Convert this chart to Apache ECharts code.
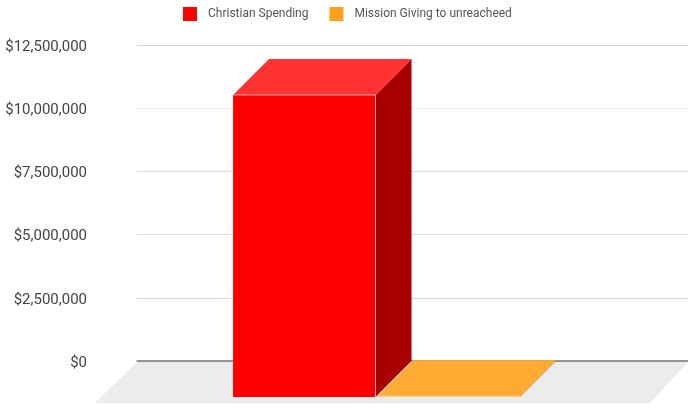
<!DOCTYPE html>
<html>
<head>
<meta charset="utf-8">
<style>html,body{margin:0;padding:0;background:#fff}#chart{width:688px;height:408px}</style>
<script src="https://cdn.jsdelivr.net/npm/echarts@6/dist/echarts.min.js"></script>
</head>
<body>
<div id="chart"></div>
<script>
// Budget comparison drawn as pseudo-3D boxes standing on a shaded floor.
const categories = ['Giving'];
const seriesNames = ['Christian Spending', 'Mission Giving to unreacheed'];
const christianSpending = [11950000];
const missionGiving = [30000];
const tickMax = 12500000;
const tickStep = 2500000;
// One rule colour per tick, from $0 upward.
const gridlineColors = ['#dddddd', '#d6d6d6', '#dcdcdc', '#dcdcdc', '#f1f1f1', '#d2d2d2'];
const baselineColor = '#777777';

const DEPTH_X = 36, DEPTH_Y = 36, BAR_RATIO = 0.2585, BAR_GAP = 2;
const palettes = [
  { front: '#ff0000', top: '#ff3333', side: '#a80000', edge: '#ffa8a8' },
  { front: '#ff9f1a', top: '#ffaa33', side: '#a86800', edge: '#ffd9a0' }
];

function poly(points, fill) {
  return { type: 'polygon', shape: { points }, style: { fill, stroke: null } };
}

// Each box is built from its value through the axes: front, top and side faces.
function boxRenderer(seriesIndex) {
  return function (params, api) {
    const pal = palettes[seriesIndex];
    const base = api.coord([api.value(0), 0]);
    const tip = api.coord([api.value(0), api.value(1)]);
    const width = api.size([1, 0])[0] * BAR_RATIO;
    const backL = seriesIndex === 0 ? base[0] - BAR_GAP / 2 - width : base[0] + BAR_GAP / 2;
    const backR = backL + width;
    const frontL = backL - DEPTH_X, frontR = backR - DEPTH_X;
    const backTop = tip[1], backBottom = base[1];
    const frontTop = backTop + DEPTH_Y, frontBottom = backBottom + DEPTH_Y;
    return {
      type: 'group',
      children: [
        poly([[frontR, frontTop], [backR, backTop], [backR, backBottom], [frontR, frontBottom]], pal.side),
        poly([[frontL, frontTop], [backL, backTop], [backR, backTop], [frontR, frontTop]], pal.top),
        poly([[frontL, frontTop], [frontR, frontTop], [frontR, frontBottom], [frontL, frontBottom]], pal.front),
        {
          type: 'polyline',
          shape: { points: [[frontL, frontTop], [frontR, frontTop], [frontR, frontBottom]] },
          style: { fill: null, stroke: pal.edge, lineWidth: 1 }
        }
      ]
    };
  };
}

function floorRenderer(params, api) {
  const origin = api.coord([0, 0]);
  const box = params.coordSys;
  const y = origin[1] + 1;
  return poly([
    [box.x, y], [box.x + box.width, y],
    [box.x + box.width - 38, y + 41], [box.x - 42, y + 41]
  ], '#ececec');
}

const chart = echarts.init(document.getElementById('chart'), null, { renderer: 'canvas' });
chart.setOption({
  animation: false,
  backgroundColor: '#ffffff',
  textStyle: { fontFamily: 'Roboto' },
  legend: {
    left: 178, top: 2, itemWidth: 14, itemHeight: 14, itemGap: 21,
    icon: 'rect', data: seriesNames,
    textStyle: { fontFamily: 'Roboto', fontSize: 12, color: '#555555', padding: [0, 0, 0, 6] }
  },
  grid: { left: 137, right: 0, top: 45, bottom: 47 },
  xAxis: {
    type: 'category', data: categories,
    axisLine: { show: true, lineStyle: { color: baselineColor, width: 1.5 } },
    axisTick: { show: false }, axisLabel: { show: false }, splitLine: { show: false }
  },
  yAxis: {
    type: 'value', min: 0, max: tickMax, interval: tickStep,
    axisLine: { show: false }, axisTick: { show: false },
    splitLine: { show: true, lineStyle: { color: gridlineColors, width: 1 } },
    axisLabel: {
      margin: 50, fontFamily: 'Roboto', fontSize: 15, color: '#444444',
      verticalAlign: 'top', lineHeight: 16, padding: [-6, 0, 0, 0],
      formatter: v => '$' + v.toLocaleString('en-US')
    }
  },
  series: [
    { type: 'custom', silent: true, z: 1, renderItem: floorRenderer, data: [[0, 0]] },
    {
      name: seriesNames[0], type: 'custom', z: 4, renderItem: boxRenderer(0),
      itemStyle: { color: palettes[0].front },
      data: categories.map((c, i) => [i, christianSpending[i]])
    },
    {
      name: seriesNames[1], type: 'custom', z: 2, renderItem: boxRenderer(1),
      itemStyle: { color: palettes[1].front },
      data: categories.map((c, i) => [i, missionGiving[i]])
    }
  ]
});
</script>
</body>
</html>
